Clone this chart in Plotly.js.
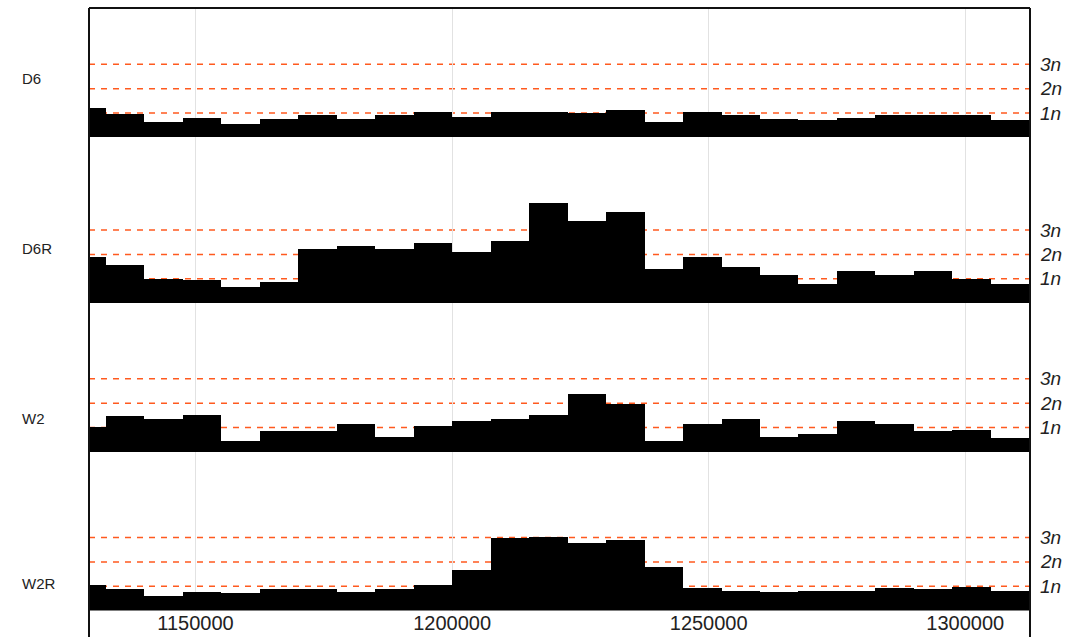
<!DOCTYPE html>
<html>
<head>
<meta charset="utf-8">
<script src="https://cdn.plot.ly/plotly-3.0.1.min.js"></script>
<style>
  html, body { margin: 0; padding: 0; background: #fff; overflow: hidden; }
  #chart { width: 1070px; height: 637px; }
</style>
</head>
<body>
<div id="chart"></div>
<script>
// Genomic bins (start coordinate of each 7.5 kb window)
const binStarts = [
  1125000, 1132500, 1140000, 1147500, 1155000, 1162500, 1170000, 1177500,
  1185000, 1192500, 1200000, 1207500, 1215000, 1222500, 1230000, 1237500,
  1245000, 1252500, 1260000, 1267500, 1275000, 1282500, 1290000, 1297500,
  1305000
];
const binWidth = 7500;

// Copy-number estimate per bin, in units of n
const D6 = [1.22, 0.98, 0.65, 0.81, 0.53, 0.77, 0.90, 0.77, 0.90, 1.06, 0.85, 1.06, 1.06,
            1.02, 1.14, 0.65, 1.06, 0.90, 0.77, 0.73, 0.81, 0.94, 0.94, 0.94, 0.73];
const D6R = [1.89, 1.56, 0.99, 0.95, 0.66, 0.87, 2.22, 2.35, 2.22, 2.47, 2.10, 2.55, 4.11,
             3.37, 3.74, 1.40, 1.89, 1.48, 1.15, 0.78, 1.32, 1.15, 1.32, 0.99, 0.78];
const W2 = [1.02, 1.47, 1.35, 1.52, 0.45, 0.86, 0.86, 1.15, 0.61, 1.06, 1.27, 1.35, 1.52,
            2.38, 1.97, 0.45, 1.15, 1.35, 0.61, 0.74, 1.27, 1.15, 0.86, 0.90, 0.57];
const W2R = [1.05, 0.89, 0.60, 0.76, 0.72, 0.89, 0.89, 0.76, 0.89, 1.05, 1.67, 2.98, 3.02,
             2.78, 2.90, 1.79, 0.93, 0.80, 0.76, 0.80, 0.80, 0.93, 0.89, 0.97, 0.80];

const sampleNames = ['D6', 'D6R', 'W2', 'W2R'];
const sampleValues = [D6, D6R, W2, W2R];
const ploidyLevels = [1, 2, 3];
const ploidyLabels = ['1n', '2n', '3n'];
const xTicks = [1150000, 1200000, 1250000, 1300000];

// Track geometry (pixels within the page)
const W = 1070, H = 637;
const plotLeft = 89, plotRight = 1030, plotTop = 8, plotBottom = 637;
const pxPerN = 24.35;
const trackZeroPx = [137.4, 303.1, 451.9, 610.6];
const trackTopPx = [8, 137.4, 303.1, 451.9];
const trackLabelPx = [78, 248, 418, 583];
const xRange = [1129240, 1312615];

const plotH = plotBottom - plotTop;
const toPaperY = px => (plotBottom - px) / plotH;

const FONT = 'Liberation Sans, Arial, Helvetica, sans-serif';
const binCenters = binStarts.map(s => s + binWidth / 2);

const traces = sampleValues.map((vals, i) => ({
  type: 'bar',
  x: binCenters,
  y: vals,
  width: binStarts.map(() => binWidth),
  xaxis: 'x',
  yaxis: i === 0 ? 'y' : 'y' + (i + 1),
  marker: { color: '#000000', line: { width: 0 } },
  hoverinfo: 'skip',
  showlegend: false
}));

const layout = {
  width: W,
  height: H,
  margin: { l: plotLeft, r: W - plotRight, t: plotTop, b: H - plotBottom, pad: 0 },
  paper_bgcolor: '#ffffff',
  plot_bgcolor: 'rgba(0,0,0,0)',
  font: { family: FONT, color: '#222222' },
  bargap: 0,
  xaxis: {
    range: xRange,
    anchor: 'y4',
    tickvals: xTicks,
    ticktext: xTicks.map(v => String(v)),
    ticks: '',
    showline: false,
    zeroline: false,
    showgrid: true,
    gridcolor: '#e2e2e2',
    gridwidth: 1,
    ticklabelstandoff: -2,
    tickfont: { family: FONT, size: 20, color: '#222222' }
  },
  shapes: [],
  annotations: []
};

sampleNames.forEach((name, i) => {
  const key = i === 0 ? 'yaxis' : 'yaxis' + (i + 1);
  const ref = i === 0 ? 'y' : 'y' + (i + 1);
  layout[key] = {
    domain: [toPaperY(trackZeroPx[i]), toPaperY(trackTopPx[i])],
    range: [0, (trackZeroPx[i] - trackTopPx[i]) / pxPerN],
    anchor: 'x',
    visible: false,
    fixedrange: true
  };

  // Ploidy reference lines drawn beneath the bars
  ploidyLevels.forEach((lvl, j) => {
    layout.shapes.push({
      type: 'line', layer: 'below',
      xref: 'x', yref: ref,
      x0: xRange[0], x1: xRange[1], y0: lvl, y1: lvl,
      line: { color: '#ff5a1f', width: 1.5, dash: '6px,6px' }
    });
    layout.annotations.push({
      xref: 'paper', yref: ref, x: 1, y: lvl,
      xanchor: 'left', yanchor: 'middle', xshift: 8,
      text: '<i>' + ploidyLabels[j] + '</i>',
      showarrow: false,
      font: { family: FONT, size: 19, color: '#222222' }
    });
  });

  // Sample name on the left
  layout.annotations.push({
    xref: 'paper', yref: 'paper',
    x: 0, xshift: 20 - plotLeft, xanchor: 'left',
    y: toPaperY(trackLabelPx[i]), yanchor: 'middle',
    text: name, showarrow: false,
    font: { family: FONT, size: 15, color: '#222222' }
  });
});

// Frame on top, left and right
const frame = { color: '#111111', width: 2 };
layout.shapes.push(
  { type: 'line', xref: 'paper', yref: 'paper', x0: 0, x1: 1, y0: 1, y1: 1, line: frame },
  { type: 'line', xref: 'paper', yref: 'paper', x0: 0, x1: 0, y0: 1, y1: -0.05, line: frame },
  { type: 'line', xref: 'paper', yref: 'paper', x0: 1, x1: 1, y0: 1, y1: -0.05, line: frame }
);

Plotly.newPlot('chart', traces, layout, { staticPlot: true, displayModeBar: false });
</script>
</body>
</html>
